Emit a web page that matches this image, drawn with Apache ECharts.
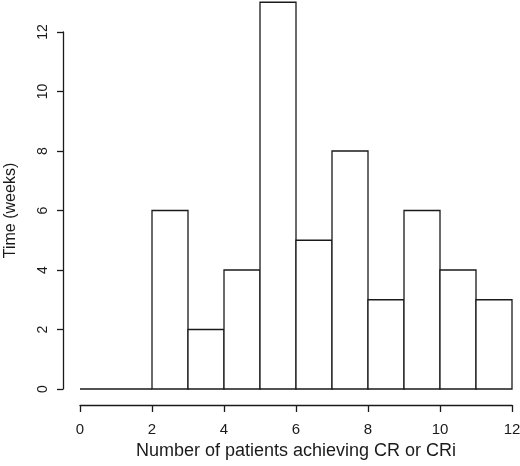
<!DOCTYPE html>
<html>
<head>
<meta charset="utf-8">
<script src="https://cdn.jsdelivr.net/npm/echarts@6/dist/echarts.min.js"></script>
<style>
  html, body { margin: 0; padding: 0; background: #fff; }
  #chart { width: 520px; height: 466px; }
</style>
</head>
<body>
<div id="chart"></div>
<script>
// Histogram bins (left edge, right edge) and heights
const binStarts = [0, 1, 2, 3, 4, 5, 6, 7, 8, 9, 10, 11];
const binEnds = [1, 2, 3, 4, 5, 6, 7, 8, 9, 10, 11, 12];
const counts = [0, 0, 6, 2, 4, 13, 5, 8, 3, 6, 4, 3];
const xTicks = [0, 2, 4, 6, 8, 10, 12];
const yTicks = [0, 2, 4, 6, 8, 10, 12];

const lineColor = '#1a1a1a';
const fontFamily = 'Liberation Sans, Arial, sans-serif';

const chart = echarts.init(document.getElementById('chart'));

const data = binStarts.map((s, i) => [s, binEnds[i], counts[i]]);

const option = {
    animation: false,
    backgroundColor: '#fff',
    grid: {
        left: 80,
        right: 8,
        top: 32,
        bottom: 77,
        containLabel: false,
        outerBoundsMode: 'none'
    },
    xAxis: {
        type: 'value',
        min: xTicks[0],
        max: xTicks[xTicks.length - 1],
        interval: 2,
        offset: 16,
        name: 'Number of patients achieving CR or CRi',
        nameLocation: 'middle',
        nameGap: 37,
        nameTextStyle: { color: lineColor, fontSize: 18, fontFamily: fontFamily },
        axisLine: { show: true, onZero: false, lineStyle: { color: lineColor, width: 1.3 } },
        axisTick: { show: true, length: 7, lineStyle: { color: lineColor, width: 1.3 } },
        axisLabel: { color: lineColor, fontSize: 15, fontFamily: fontFamily, margin: 17 },
        splitLine: { show: false }
    },
    yAxis: {
        type: 'value',
        min: yTicks[0],
        max: yTicks[yTicks.length - 1],
        interval: 2,
        offset: 17,
        name: 'Time (weeks)',
        nameLocation: 'middle',
        nameRotate: 90,
        nameGap: 44,
        nameTextStyle: { color: lineColor, fontSize: 16, fontFamily: fontFamily },
        axisLine: { show: true, onZero: false, lineStyle: { color: lineColor, width: 1.3 } },
        axisTick: { show: true, length: 6, lineStyle: { color: lineColor, width: 1.3 } },
        axisLabel: { color: lineColor, fontSize: 14, fontFamily: fontFamily, rotate: 90, margin: 13 },
        splitLine: { show: false }
    },
    series: [{
        type: 'custom',
        clip: false,
        data: data,
        renderItem: function (params, api) {
            const p0 = api.coord([api.value(0), 0]);
            const p1 = api.coord([api.value(1), api.value(2)]);
            return {
                type: 'rect',
                shape: {
                    x: p0[0],
                    y: p1[1],
                    width: p1[0] - p0[0],
                    height: p0[1] - p1[1]
                },
                style: {
                    fill: '#fff',
                    stroke: lineColor,
                    lineWidth: 1.3
                }
            };
        }
    }]
};

chart.setOption(option);
</script>
</body>
</html>
